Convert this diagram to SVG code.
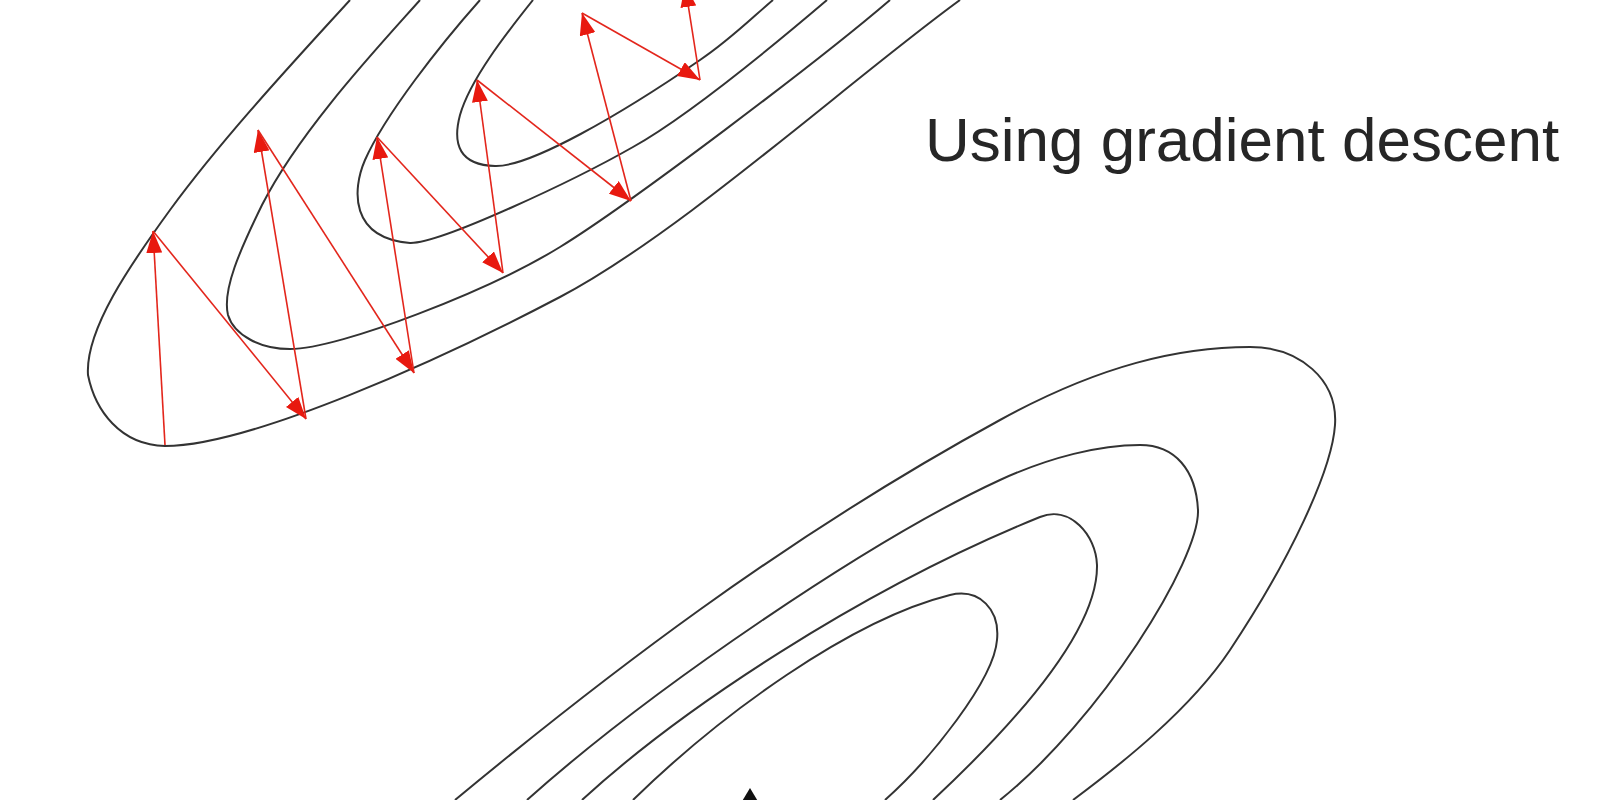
<svg xmlns="http://www.w3.org/2000/svg" width="1600" height="800" viewBox="0 0 1600 800">
  <style>
    .contour { fill: none; stroke: #333333; stroke-width: 2; }
    .step { fill: none; stroke: #e3261c; stroke-width: 1.6; marker-end: url(#head); }
    .label { font-family: "Liberation Sans", Arial, sans-serif; font-size: 62px; fill: #262626; }
  </style>
  <defs>
    <marker id="head" viewBox="0 0 22 16" refX="22" refY="8" markerWidth="22" markerHeight="16" markerUnits="userSpaceOnUse" orient="auto">
      <path d="M0,0 L22,8 L0,16 z" fill="#e8190f"/>
    </marker>
  </defs>
  <rect width="1600" height="800" fill="#ffffff"/>

  <g id="contours-top">
    <path class="contour" d="M350,0 C300,55 225,135 170,210 C130,265 85,330 88,375 C95,410 120,445 165,446 C250,446 440,360 560,297 C680,234 850,80 960,0"/>
    <path class="contour" d="M420,0 C380,45 300,130 262,205 C240,250 222,290 228,315 C234,335 260,349 290,349 C340,349 490,290 560,247 C630,204 820,60 890,0"/>
    <path class="contour" d="M480,0 C440,45 385,115 365,160 C352,190 350,238 410,243 C440,244 575,180 633,147 C690,115 780,40 827,0"/>
    <path class="contour" d="M533,0 C505,35 470,80 460,115 C452,145 460,165 495,166 C530,167 620,115 700,60 C730,40 755,15 773,0"/>
  </g>

  <g id="contours-bottom">
    <path class="contour" d="M455,800 C600,680 780,540 1000,420 C1100,365 1180,347 1250,347 C1300,347 1338,380 1335,425 C1332,470 1290,560 1230,650 C1190,710 1120,765 1073,800"/>
    <path class="contour" d="M527,800 C650,690 870,540 1000,480 C1050,457 1100,445 1140,445 C1175,445 1196,470 1198,510 C1200,560 1100,720 1000,800"/>
    <path class="contour" d="M582,800 C680,710 860,590 1040,517 C1070,505 1096,535 1097,565 C1098,620 1040,700 933,800"/>
    <path class="contour" d="M633,800 C720,715 850,620 950,595 C980,588 1000,610 997,640 C994,680 930,760 885,800"/>
  </g>

  <g id="connectors">
    <line class="step" x1="165" y1="445" x2="153" y2="231"/>
    <line class="step" x1="153" y1="231" x2="306" y2="419"/>
    <line class="step" x1="306" y1="419" x2="258" y2="130"/>
    <line class="step" x1="258" y1="130" x2="414" y2="373"/>
    <line class="step" x1="414" y1="373" x2="377" y2="137"/>
    <line class="step" x1="377" y1="137" x2="503" y2="273"/>
    <line class="step" x1="503" y1="273" x2="477" y2="80"/>
    <line class="step" x1="477" y1="80" x2="631" y2="201"/>
    <line class="step" x1="631" y1="201" x2="582" y2="13"/>
    <line class="step" x1="582" y1="13" x2="700" y2="80"/>
    <line class="step" x1="700" y1="80" x2="685" y2="-15"/>
  </g>

  <g id="mark">
    <path d="M750,788 L741,803 L759,803 z" fill="#111111"/>
  </g>

  <g id="title">
    <text class="label" x="925" y="161">Using gradient descent</text>
  </g>
</svg>
